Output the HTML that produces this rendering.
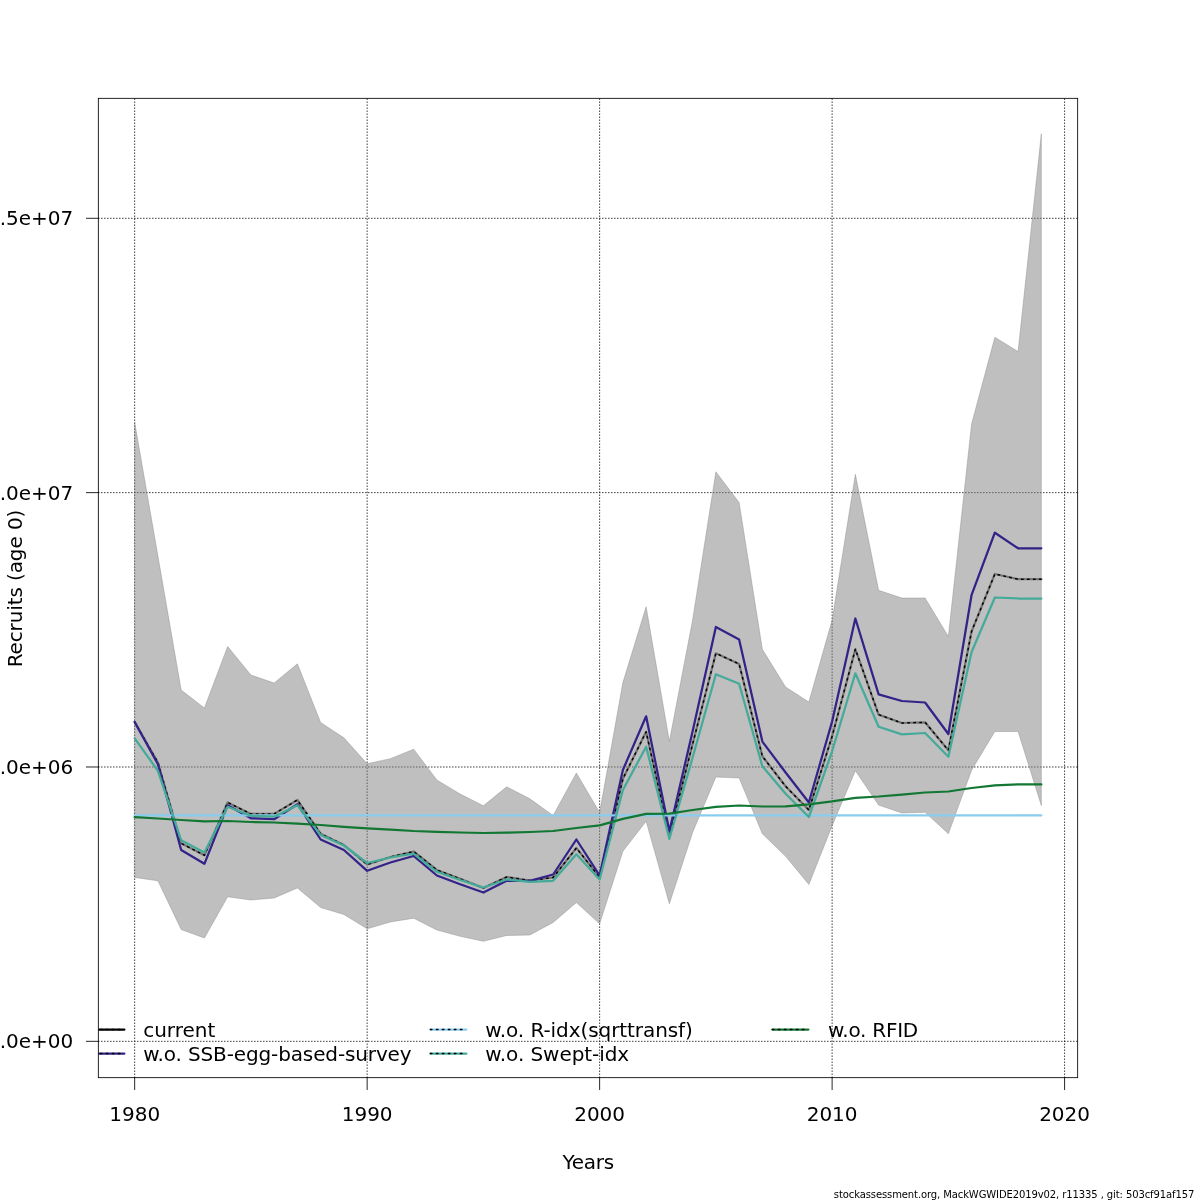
<!DOCTYPE html>
<html><head><meta charset="utf-8"><title>Recruits</title>
<style>html,body{margin:0;padding:0;background:#fff}svg{display:block}text{font-family:"DejaVu Sans","Liberation Sans",sans-serif;fill:#000}</style></head><body>
<svg width="1200" height="1200" viewBox="0 0 1200 1200">
<rect width="1200" height="1200" fill="#fff"/>
<defs><clipPath id="c"><rect x="98.4" y="98.4" width="979.1999999999999" height="979.1999999999999"/></clipPath></defs>
<g stroke="#000" stroke-width="0.75" stroke-dasharray="0.75 2.25" stroke-linecap="round" fill="none">
<line x1="134.67" y1="1077.6" x2="134.67" y2="98.4"/>
<line x1="367.15" y1="1077.6" x2="367.15" y2="98.4"/>
<line x1="599.63" y1="1077.6" x2="599.63" y2="98.4"/>
<line x1="832.11" y1="1077.6" x2="832.11" y2="98.4"/>
<line x1="1064.59" y1="1077.6" x2="1064.59" y2="98.4"/>
<line x1="98.4" y1="1041.33" x2="1077.6" y2="1041.33"/>
<line x1="98.4" y1="766.99" x2="1077.6" y2="766.99"/>
<line x1="98.4" y1="492.64" x2="1077.6" y2="492.64"/>
<line x1="98.4" y1="218.30" x2="1077.6" y2="218.30"/>
</g>
<g clip-path="url(#c)" fill="none" stroke-linecap="round" stroke-linejoin="round">
<polygon points="134.67,877.50 157.92,880.80 181.17,929.50 204.41,938.00 227.66,896.80 250.91,900.00 274.16,898.00 297.41,888.00 320.65,907.50 343.90,914.50 367.15,928.80 390.40,922.00 413.65,918.20 436.89,930.00 460.14,936.30 483.39,941.30 506.64,935.50 529.89,935.00 553.13,922.50 576.38,902.50 599.63,923.80 622.88,851.30 646.13,821.30 669.37,903.80 692.62,832.50 715.87,777.00 739.12,778.00 762.37,833.80 785.61,856.30 808.86,884.50 832.11,825.80 855.36,770.70 878.61,805.10 901.85,813.00 925.10,812.30 948.35,833.80 971.60,770.20 994.85,731.50 1018.09,731.50 1041.34,805.60 1041.34,133.80 1018.09,351.50 994.85,337.30 971.60,423.90 948.35,636.50 925.10,598.00 901.85,598.00 878.61,590.30 855.36,474.30 832.11,620.00 808.86,702.00 785.61,687.00 762.37,649.30 739.12,502.50 715.87,471.80 692.62,620.00 669.37,741.30 646.13,606.80 622.88,682.50 599.63,812.50 576.38,773.00 553.13,815.50 529.89,798.80 506.64,786.80 483.39,805.80 460.14,794.00 436.89,780.00 413.65,749.20 390.40,758.70 367.15,763.70 343.90,737.80 320.65,722.50 297.41,663.80 274.16,683.00 250.91,675.00 227.66,646.50 204.41,708.00 181.17,690.00 157.92,556.00 134.67,422.30" fill="rgba(128,128,128,0.5)" stroke="rgba(128,128,128,0.5)" stroke-width="0.75"/>
<polyline points="134.67,722.00 157.92,762.50 181.17,843.30 204.41,855.30 227.66,802.50 250.91,813.90 274.16,813.90 297.41,800.00 320.65,833.80 343.90,845.00 367.15,864.50 390.40,857.00 413.65,851.50 436.89,870.00 460.14,878.80 483.39,888.00 506.64,877.00 529.89,880.50 553.13,877.50 576.38,848.00 599.63,877.30 622.88,778.80 646.13,731.80 669.37,836.00 692.62,744.00 715.87,653.30 739.12,664.00 762.37,756.30 785.61,786.30 808.86,810.00 832.11,736.30 855.36,649.20 878.61,714.60 901.85,723.00 925.10,722.30 948.35,750.30 971.60,631.30 994.85,574.00 1018.09,579.20 1041.34,579.20" stroke="#747474" stroke-width="2.25"/>
<polyline points="134.67,722.00 157.92,762.50 181.17,843.30 204.41,855.30 227.66,802.50 250.91,813.90 274.16,813.90 297.41,800.00 320.65,833.80 343.90,845.00 367.15,864.50 390.40,857.00 413.65,851.50 436.89,870.00 460.14,878.80 483.39,888.00 506.64,877.00 529.89,880.50 553.13,877.50 576.38,848.00 599.63,877.30 622.88,778.80 646.13,731.80 669.37,836.00 692.62,744.00 715.87,653.30 739.12,664.00 762.37,756.30 785.61,786.30 808.86,810.00 832.11,736.30 855.36,649.20 878.61,714.60 901.85,723.00 925.10,722.30 948.35,750.30 971.60,631.30 994.85,574.00 1018.09,579.20 1041.34,579.20" stroke="#000" stroke-width="1.5" stroke-dasharray="1.5 4.5"/>
<polyline points="134.67,722.00 157.92,764.20 181.17,850.00 204.41,863.80 227.66,805.30 250.91,818.30 274.16,819.20 297.41,804.20 320.65,839.50 343.90,850.00 367.15,870.80 390.40,862.50 413.65,856.00 436.89,875.50 460.14,884.30 483.39,892.50 506.64,880.80 529.89,880.80 553.13,874.50 576.38,839.50 599.63,875.50 622.88,770.00 646.13,716.30 669.37,831.30 692.62,731.30 715.87,627.00 739.12,639.50 762.37,741.60 785.61,772.50 808.86,802.50 832.11,721.50 855.36,618.50 878.61,694.30 901.85,701.00 925.10,702.50 948.35,734.00 971.60,594.80 994.85,532.70 1018.09,548.30 1041.34,548.30" stroke="#332288" stroke-width="2.25"/>
<polyline points="134.67,815.3 1041.34,815.3" stroke="#88CCEE" stroke-width="2.25"/>
<polyline points="134.67,738.30 157.92,770.80 181.17,840.30 204.41,852.50 227.66,806.70 250.91,815.80 274.16,816.70 297.41,805.30 320.65,835.00 343.90,845.50 367.15,863.00 390.40,857.50 413.65,853.70 436.89,871.80 460.14,880.00 483.39,887.50 506.64,879.50 529.89,881.80 553.13,880.80 576.38,854.30 599.63,879.50 622.88,790.00 646.13,746.70 669.37,838.80 692.62,757.50 715.87,674.30 739.12,683.80 762.37,766.30 785.61,793.80 808.86,817.00 832.11,751.30 855.36,673.30 878.61,726.80 901.85,734.40 925.10,733.00 948.35,756.70 971.60,652.00 994.85,597.50 1018.09,598.50 1041.34,598.50" stroke="#44AA99" stroke-width="2.25"/>
<polyline points="134.67,817.20 157.92,818.50 181.17,820.00 204.41,821.30 227.66,821.00 250.91,822.00 274.16,822.50 297.41,823.70 320.65,825.00 343.90,826.80 367.15,828.30 390.40,829.60 413.65,831.00 436.89,831.80 460.14,832.50 483.39,833.00 506.64,832.70 529.89,832.00 553.13,831.00 576.38,828.00 599.63,825.30 622.88,818.80 646.13,813.80 669.37,813.60 692.62,810.00 715.87,806.80 739.12,805.50 762.37,806.50 785.61,806.30 808.86,804.30 832.11,801.40 855.36,797.80 878.61,796.50 901.85,794.60 925.10,792.50 948.35,791.50 971.60,788.00 994.85,785.40 1018.09,784.40 1041.34,784.40" stroke="#117733" stroke-width="2.25"/>
<line x1="88.4" y1="1029.5" x2="124.4" y2="1029.5" stroke="#000" stroke-width="2.25"/>
<line x1="88.4" y1="1053.5" x2="124.4" y2="1053.5" stroke="#332288" stroke-width="2.25"/>
<line x1="430.4" y1="1029.5" x2="466.4" y2="1029.5" stroke="#88CCEE" stroke-width="2.25"/>
<line x1="430.4" y1="1053.5" x2="466.4" y2="1053.5" stroke="#44AA99" stroke-width="2.25"/>
<line x1="772.4" y1="1029.5" x2="808.4" y2="1029.5" stroke="#117733" stroke-width="2.25"/>
<line x1="88.4" y1="1029.5" x2="124.4" y2="1029.5" stroke="#000" stroke-width="1.5" stroke-dasharray="1.5 4.5"/>
<line x1="88.4" y1="1053.5" x2="124.4" y2="1053.5" stroke="#000" stroke-width="1.5" stroke-dasharray="1.5 4.5"/>
<line x1="430.4" y1="1029.5" x2="466.4" y2="1029.5" stroke="#000" stroke-width="1.5" stroke-dasharray="1.5 4.5"/>
<line x1="430.4" y1="1053.5" x2="466.4" y2="1053.5" stroke="#000" stroke-width="1.5" stroke-dasharray="1.5 4.5"/>
<line x1="772.4" y1="1029.5" x2="808.4" y2="1029.5" stroke="#000" stroke-width="1.5" stroke-dasharray="1.5 4.5"/>
</g>
<g font-size="20px" style="will-change:opacity">
<text x="143.2" y="1036.7">current</text>
<text x="143.2" y="1060.7" textLength="268.4" lengthAdjust="spacing">w.o. SSB-egg-based-survey</text>
<text x="485.3" y="1036.7" textLength="207.6" lengthAdjust="spacing">w.o. R-idx(sqrttransf)</text>
<text x="485.3" y="1060.7" textLength="143.9" lengthAdjust="spacing">w.o. Swept-idx</text>
<text x="828.0" y="1036.7" textLength="90.2" lengthAdjust="spacing">w.o. RFID</text>
</g>
<g stroke="#000" stroke-width="0.85" fill="none" stroke-linecap="round" stroke-linejoin="round">
<line x1="98.4" y1="98.4" x2="98.4" y2="1077.6"/><line x1="1077.6" y1="98.4" x2="1077.6" y2="1077.6"/><line x1="98.4" y1="98.4" x2="1077.6" y2="98.4"/><line x1="98.4" y1="1077.6" x2="1077.6" y2="1077.6"/>
<line x1="134.67" y1="1077.6" x2="134.67" y2="1089.6"/>
<line x1="367.15" y1="1077.6" x2="367.15" y2="1089.6"/>
<line x1="599.63" y1="1077.6" x2="599.63" y2="1089.6"/>
<line x1="832.11" y1="1077.6" x2="832.11" y2="1089.6"/>
<line x1="1064.59" y1="1077.6" x2="1064.59" y2="1089.6"/>
<line x1="98.4" y1="1041.33" x2="86.4" y2="1041.33"/>
<line x1="98.4" y1="766.99" x2="86.4" y2="766.99"/>
<line x1="98.4" y1="492.64" x2="86.4" y2="492.64"/>
<line x1="98.4" y1="218.30" x2="86.4" y2="218.30"/>
</g>
<g font-size="20px" style="will-change:opacity">
<text x="134.67" y="1121.3" text-anchor="middle">1980</text>
<text x="367.15" y="1121.3" text-anchor="middle">1990</text>
<text x="599.63" y="1121.3" text-anchor="middle">2000</text>
<text x="832.11" y="1121.3" text-anchor="middle">2010</text>
<text x="1064.59" y="1121.3" text-anchor="middle">2020</text>
<text x="73.3" y="1048.43" text-anchor="end">0.0e+00</text>
<text x="73.3" y="774.09" text-anchor="end">5.0e+06</text>
<text x="73.3" y="499.74" text-anchor="end">1.0e+07</text>
<text x="73.3" y="225.40" text-anchor="end">1.5e+07</text>
<text x="588.3" y="1168.8" text-anchor="middle" textLength="51.6" lengthAdjust="spacing">Years</text>
<text transform="translate(21.8,588.5) rotate(-90)" text-anchor="middle" textLength="157.7" lengthAdjust="spacing">Recruits (age 0)</text>
</g>
<text x="833.8" y="1197.6" textLength="360.6" lengthAdjust="spacing" font-size="10px" style="will-change:opacity">stockassessment.org, MackWGWIDE2019v02, r11335 , git: 503cf91af157</text>
</svg></body></html>
